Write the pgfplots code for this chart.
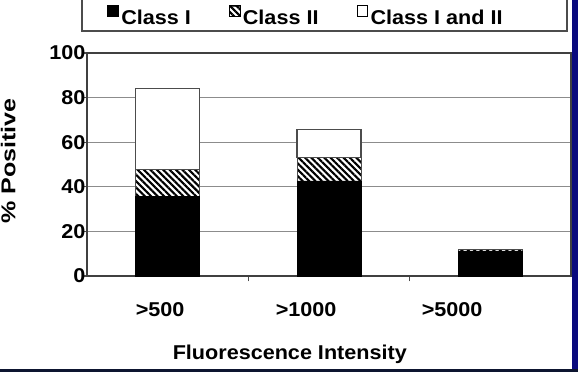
\documentclass[border=0pt]{standalone}
\usepackage{fontspec}
\setmainfont{Liberation Sans}[FakeStretch=1.08]
\usepackage{pgfplots}
\pgfplotsset{compat=1.18}
\usetikzlibrary{patterns.meta}
\definecolor{navy}{HTML}{0A0A7E}
\definecolor{darknavy}{HTML}{0D1530}
\definecolor{gridgray}{HTML}{8C8C8C}
\newcommand{\bigbf}{\fontsize{15}{17}\selectfont\bfseries}
\begin{document}
\begin{tikzpicture}
\useasboundingbox (0,0) rectangle (433.5pt,279pt);
\fill[white] (0,0) rectangle (433.5pt,279pt);
\fill[navy] (429pt,0) rectangle (433.5pt,279pt);
\fill[darknavy] (0,0) rectangle (433.5pt,2.25pt);
\draw[gray!60!black, line width=0.8pt] (61.5pt,255.75pt) rectangle (425.25pt,282pt);
\begin{axis}[
  at={(65.25pt,72pt)}, anchor=south west,
  scale only axis, width=363pt, height=167.25pt,
  ybar stacked, bar width=48pt,
  xmin=-0.5, xmax=2.5, ymin=0, ymax=100,
  ytick={0,20,40,60,80,100},
  xtick={-0.047,0.858,1.763},
  xticklabels={{>500},{>1000},{>5000}},
  minor xtick={0.5,1.5},
  xtick pos=bottom, ytick pos=left,
  every major x tick/.style={draw=none},
  every minor x tick/.style={draw=gray!60!black, line width=0.8pt},
  minor tick length=4pt,
  major tick length=3pt,
  tick align=outside,
  every major y tick/.style={draw=gray!60!black, line width=0.8pt},
  ymajorgrids, grid style={gridgray, line width=1pt},
  axis line style={gray!50!black, line width=0.9pt},
  /pgf/number format/assume math mode=true,
  tick label style={font=\bigbf},
  yticklabel style={inner xsep=0pt, xshift=2pt},
  xticklabel style={anchor=center, yshift=-22pt},
  ylabel={\scalebox{1.16}[1]{\% Positive}},
  xlabel={Fluorescence Intensity},
  every axis y label/.style={at={(rel axis cs:-0.163,0.515)}, rotate=90, anchor=center, font=\bigbf},
  every axis x label/.style={at={(rel axis cs:0.419,-0.35)}, anchor=center, font=\bigbf},
  legend columns=3,
  legend style={draw=none, fill=none, at={(rel axis cs:0.0413,1.161)}, anchor=west,
    font=\bigbf, inner sep=0pt,
    /tikz/every even column/.append style={column sep=26.5pt}},
  legend image code/.code={\draw[#1, draw=black, line width=0.5pt] (0pt,1pt) rectangle (8pt,9pt);},
  legend cell align=left,
]
\addplot[fill=black, draw=black] coordinates {(0,35.6) (1,42.7) (2,11.3)};
\addlegendentry{Class I}
\addplot[preaction={fill=white}, pattern={Lines[angle=-45, distance=3.4pt, line width=1.6pt]}, pattern color=black, draw=black!70] coordinates {(0,12.2) (1,10.5) (2,0.8)};
\addlegendentry{Class II}
\addplot[fill=white, draw=black!70, line width=0.8pt] coordinates {(0,36.4) (1,12.3) (2,0)};
\addlegendentry{Class I and II}
\end{axis}
\end{tikzpicture}
\end{document}
